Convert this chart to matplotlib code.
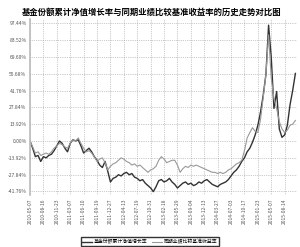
import matplotlib
matplotlib.use("Agg")
import matplotlib.pyplot as plt

plt.rcParams['font.family'] = ['Noto Sans CJK SC', 'DejaVu Sans']

# cumulative growth (%) sampled at equal steps along the trading-day axis
fund = [0, -6, -13, -12, -17, -13, -14, -12, -11, -8,
        -4, 0, -2, -6, -9, -2, 1, 0, 1, -4,
        -10, -8, -6, -9, -13, -16, -20, -22, -17, -25,
        -34, -31, -30, -28, -29, -27, -26, -28, -27, -30,
        -31, -33, -32, -35, -37, -39, -42, -38, -33, -32,
        -34, -33, -31, -34, -36, -39, -37, -35, -34, -36,
        -35, -37, -36, -34, -35, -33, -32, -34, -36, -37,
        -38, -36, -35, -34, -32, -29, -26, -24, -21, -17,
        -14, -9, -6, -1, 5, 13, 24, 38, 55, 96,
        69, 27, 41, 10, 3, 5, 13, 30, 42, 56]
bench = [0, -5, -10, -9, -12, -11, -10, -11, -9, -6,
         -4, -2, -3, -5, -6, -2, 1, 0, 2.5, -2,
         -6, -9, -8, -10, -13, -17, -15, -14, -18, -24,
         -21, -19, -18, -16, -14, -15, -17, -18, -20, -19,
         -21, -20, -22, -24, -26, -24, -23, -21, -16, -13,
         -15, -18, -17, -16, -16, -20, -26, -23, -21, -22,
         -20, -21, -20, -21, -22, -23, -24, -25, -26, -26,
         -27, -26, -27, -26, -24, -23, -21, -19, -18, -16,
         -8, 2.5, 7, 11, 8, 7, 18, 36, 55, 88,
         52, 35, 27, 16, 10, 7, 9, 13, 14, 17]
dates = ["2010-05-07", "2010-08-16", "2010-11-23", "2011-03-07", "2011-06-10",
         "2011-09-19", "2011-12-27", "2012-04-13", "2012-07-19", "2012-10-31",
         "2013-02-18", "2013-05-29", "2013-09-04", "2013-12-13", "2014-03-27",
         "2014-07-03", "2014-10-17", "2015-01-23", "2015-05-07", "2015-08-14"]
yticks = [-41.76, -27.84, -13.92, 0.0, 13.92, 27.84, 41.76, 55.68, 69.60, 83.52, 97.44]

fig = plt.figure(figsize=(3.0, 2.47), dpi=100)
ax = fig.add_axes([0.1, 0.211, 0.89, 0.712])

x = list(range(len(fund)))
ax.plot(x, fund, color='#333333', lw=1.0, label='基金份额累计净值增长率')
ax.plot(x, bench, color='#999999', lw=0.8, label='同期业绩比较基准收益率')

ax.set_xlim(0, 99.6)
ax.set_ylim(-44.7, 101.1)
ax.set_yticks(yticks)
ax.set_yticklabels([f"{v:.2f}%" for v in yticks], fontsize=3.6, color='#555555')
ax.set_xticks(range(0, 100, 5))
ax.set_xticklabels(dates, rotation=90, fontsize=3.5, color='#555555')
ax.tick_params(length=0, pad=2.5)
ax.grid(True, ls=':', color='#999999', lw=0.5)
for s in ['top', 'right', 'bottom']:
    ax.spines[s].set_visible(False)
ax.spines['left'].set_color('#bbbbbb')
ax.spines['left'].set_linewidth(1.2)

fig.text(0.505, 0.951, '基金份额累计净值增长率与同期业绩比较基准收益率的历史走势对比图',
         ha='center', va='center', fontsize=6.0, fontweight='bold')
fig.legend(loc='center', bbox_to_anchor=(0.5, 0.022), ncol=2, fontsize=3.5,
           frameon=True, fancybox=False, edgecolor='black', handlelength=2,
           borderpad=0.3, columnspacing=1.0, handletextpad=0.4)

fig.savefig('out.png', dpi=100)
